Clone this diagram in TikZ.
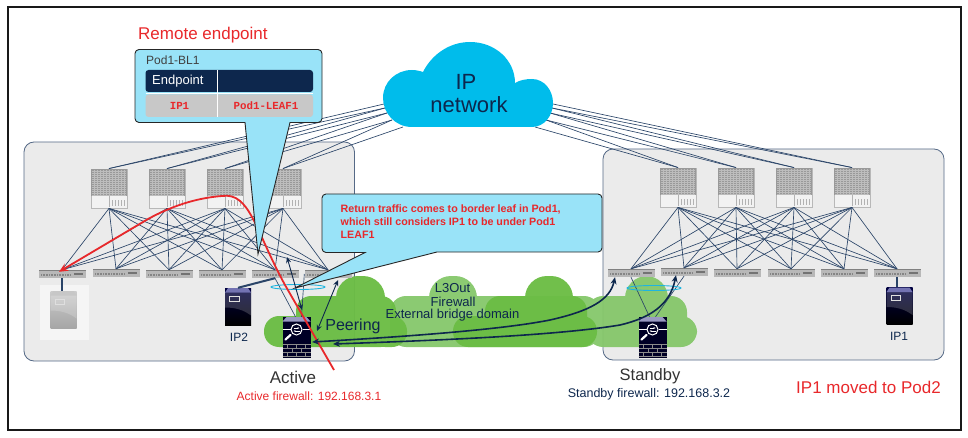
\documentclass[tikz,border=0pt]{standalone}
\usepackage{fontspec}
\setmainfont{Liberation Sans}
\newfontfamily\codefont{Liberation Mono}
\usetikzlibrary{arrows.meta}

\definecolor{navy}{HTML}{2A4468}
\definecolor{headnavy}{HTML}{0D274D}
\definecolor{alertred}{HTML}{E8282B}
\definecolor{calloutblue}{HTML}{99E3F8}
\definecolor{cloudblue}{HTML}{00BCEB}
\definecolor{podgray}{HTML}{EBEBEB}
\definecolor{greendark}{HTML}{6CBD45}
\definecolor{greenlight}{HTML}{85C76A}
\definecolor{rowgray}{HTML}{C8C8C8}
\definecolor{ringblue}{HTML}{1FB5E0}

\tikzset{
  fsz/.style={font=\fontsize{#1}{#1}\selectfont},
  link/.style={draw=navy,line width=0.65pt},
  podbox/.style={draw=navy!80,fill=podgray,line width=0.8pt,rounded corners=10pt},
  spinebox/.style={draw=black!28,fill=black!5,line width=0.9pt,minimum width=36pt,minimum height=39pt,inner sep=0pt},
  leafbox/.style={fill=black!28,minimum width=47pt,minimum height=8pt,inner sep=0pt},
  srvbox/.style={minimum width=26pt,minimum height=37pt,inner sep=0pt},
  fwbox/.style={fill=black!85!blue,minimum width=28pt,minimum height=41pt,inner sep=0pt},
  ring/.style={draw=ringblue,line width=0.9pt},
  flow/.style={draw=headnavy,line width=1.6pt,{Stealth[length=7pt,width=6pt]}-{Stealth[length=7pt,width=6pt]}},
  shortflow/.style={draw=headnavy,line width=0.9pt,{Stealth[length=6pt,width=5pt]}-{Stealth[length=6pt,width=5pt]}},
  callout/.style={draw=black!85,fill=calloutblue,line width=0.9pt,rounded corners=4pt},
  redtext/.style={text=alertred},
  navytext/.style={text=headnavy},
}

% spine switch: name, x, y of centre
\newcommand{\spineicon}[3]{
  \node[spinebox] (#1) at (#2,#3) {};
  \fill[black!40] (#2-18,#3-19.5) rectangle (#2+18,#3+8);
  \foreach \k in {0,2,...,24}
    \draw[black!26,line width=0.4pt] (#2-17,#3-17+\k) -- (#2+17,#3-17+\k);
  \foreach \k in {2,5,...,32}
    \draw[black!26,line width=0.3pt] (#2-17+\k,#3-18) -- (#2-17+\k,#3+7);
  \draw[black!30,line width=0.5pt] (#2,#3+8) -- (#2,#3+19);
  \foreach \k in {3,6,...,15}
    \draw[black!30,line width=0.5pt] (#2+\k,#3+12) -- (#2+\k,#3+18);
}
% leaf switch: name, x, y of centre
\newcommand{\leaficon}[3]{
  \node[leafbox] (#1) at (#2,#3) {};
  \fill[black!50] (#2-23.5,#3-4) rectangle (#2+23.5,#3-2.8);
  \draw[black!48,line width=2pt,dash pattern=on 0.8pt off 0.8pt] (#2-21,#3+0.5) -- (#2+9,#3+0.5);
  \fill[black!55] (#2+12,#3-1.5) rectangle (#2+21,#3+0.5);
}
% server: name, x, y of centre, top colour, bottom colour, front colour
\newcommand{\servericon}[6]{
  \node[srvbox,top color=#5,bottom color=#6] (#1) at (#2,#3) {};
  \fill[#4] (#2-13,#3-14) -- (#2-10,#3-18.5) -- (#2+10,#3-18.5) -- (#2+13,#3-14) -- cycle;
  \draw[white!85!black,line width=0.7pt] (#2-8.5,#3-10.5) rectangle (#2+1,#3-5.5);
  \fill[white,opacity=.18] (#2-13,#3+1) .. controls (#2-3,#3+1) and (#2+5,#3+3) .. (#2+13,#3+9) -- (#2+13,#3-14) -- (#2-13,#3-14) -- cycle;
}
% firewall: name, x, y of centre
\newcommand{\fwicon}[3]{
  \node[fwbox] (#1) at (#2,#3) {};
  \fill[black!60!blue!40!white] (#2-14,#3-16) -- (#2-10,#3-20.5) -- (#2+10,#3-20.5) -- (#2+14,#3-16) -- cycle;
  \draw[white,line width=1pt] (#2,#3-8) circle (5.5);
  \draw[white,line width=0.7pt,-{Stealth[length=2pt]}] (#2-3,#3-9.5) -- (#2+3,#3-9.5);
  \draw[white,line width=0.7pt,-{Stealth[length=2pt]}] (#2+3,#3-6.5) -- (#2-3,#3-6.5);
  \draw[white,line width=0.8pt] (#2-14,#3-8) -- (#2-6,#3-8) (#2+6,#3-8) -- (#2+14,#3-8);
  \draw[white,line width=2.2pt,line cap=round] (#2-11,#3+2) -- (#2-6,#3-2.5);
  \foreach \k in {7,11,15,19}
    \draw[black!45,line width=0.7pt] (#2-14,#3+\k) -- (#2+14,#3+\k);
  \foreach \k in {-9,0,9}
    \draw[black!45,line width=0.7pt] (#2+\k,#3+7) -- (#2+\k,#3+11) (#2+\k,#3+15) -- (#2+\k,#3+19);
  \foreach \k in {-4.5,4.5}
    \draw[black!45,line width=0.7pt] (#2+\k,#3+11) -- (#2+\k,#3+15);
}

\begin{document}
\begin{tikzpicture}[x=1pt,y=-1pt]
  \useasboundingbox (0,0) rectangle (968,438);

  % Outer frame
  \draw[black!90,line width=2pt] (7.5,7.5) rectangle (960.5,429.5);

  % Pods
  \draw[podbox] (24,142) rectangle (354.5,361);
  \draw[podbox] (603,149) rectangle (944,360);

  % Cloud attachment points
  \coordinate (cl1) at (384,104);
  \coordinate (cl2) at (385,108);
  \coordinate (cl3) at (387,113);
  \coordinate (cl4) at (392,120);
  \coordinate (cl5) at (403,127);
  \coordinate (cr1) at (535,127);
  \coordinate (cr2) at (546,120);
  \coordinate (cr3) at (550,113);
  \coordinate (cr4) at (552,108);
  \coordinate (cr5) at (553,104);

  % Green clouds
  \fill[greenlight,fill opacity=.95,rounded corners=16pt]
    (390,296) rectangle (600,347)
    (587,296) rectangle (687,347)
    (650,316) rectangle (697,347)
    [rounded corners=22pt]
    (429,276) rectangle (477,325)
    (625,276) rectangle (668,325);
  \fill[greendark,fill opacity=.97,rounded corners=15pt]
    (264,316) rectangle (320,347)
    (296,296) rectangle (396,347)
    (370,316) rectangle (407,347)
    (453,316) rectangle (597,347)
    (485,296) rectangle (587,347)
    [rounded corners=22pt]
    (336,276) rectangle (385,325)
    (525,276) rectangle (573,325);

  % Spines
  \foreach \n/\x in {1/109,2/167,3/225,4/283}
    \spineicon{spineA\n}{\x}{188.5};
  \foreach \n/\x in {1/678,2/736,3/794,4/852}
    \spineicon{spineB\n}{\x}{187.5};

  % Leaves
  \foreach \n/\x/\y in {1/62/274,2/116/273,3/169/274,4/222/274,5/275/274,6/328/274}
    \leaficon{leafA\n}{\x}{\y};
  \foreach \n/\x/\y in {1/631/273,2/684/272,3/737/273,4/791/273,5/844/273,6/897/273}
    \leaficon{leafB\n}{\x}{\y};

  % Uplinks to the IP network
  \foreach \s/\t in {1/2,2/3,3/4,4/5} {
    \draw[link] (spineA\s.north) -- (cl\s);
    \draw[link] (spineA\s.north) -- (cl\t);
    \draw[link] (spineB\s.north) -- (cr\s);
    \draw[link] (spineB\s.north) -- (cr\t);
  }

  % IP network cloud
  \fill[cloudblue] (412,127) .. controls (395,127) and (383,113) .. (383,98)
    .. controls (383,82) and (396,70) .. (412,70)
    .. controls (416,70) and (420,71) .. (423,72)
    .. controls (432,54) and (450,42) .. (470,42)
    .. controls (495,42) and (515,60) .. (515,83)
    .. controls (520,80) and (526,79) .. (532,79)
    .. controls (544,79) and (553,90) .. (553,103)
    .. controls (553,116) and (544,127) .. (532,127) -- cycle;
  \node[navytext,fsz=22] (ipword) at (466,82) {IP};
  \node[navytext,fsz=22] (netword) at (469,105) {network};

  % Spine to leaf mesh
  \foreach \s in {1,2,3,4}
    \foreach \l in {1,2,3,4,5,6} {
      \draw[link] (spineA\s.south) -- (leafA\l.north);
      \draw[link] (spineB\s.south) -- (leafB\l.north);
    }

  % Servers
  \fill[white!96!black] (40,285) rectangle (88.5,340);
  \servericon{srvGhost}{63.5}{309.5}{black!22}{black!20}{black!35};
  \servericon{srvTwo}{238}{306.5}{black!55!blue!55}{black!75!blue}{black};
  \servericon{srvOne}{899.5}{306}{black!55!blue!55}{black!75!blue}{black};
  \draw[navy,line width=2pt] (leafA1.south) -- (srvGhost.north -| leafA1.south);
  \draw[navy,line width=2pt] (leafA5.south) -- (srvTwo.north);
  \draw[navy,line width=2pt] (leafB6.south) -- (srvOne.north -| leafB6.south);
  \node[navytext,fsz=12] (ipTwoLabel) at (239,337) {IP2};
  \node[navytext,fsz=12] (ipOneLabel) at (899,336) {IP1};

  % Firewalls
  \fwicon{fwActive}{296.5}{337.5}
  \fwicon{fwStandby}{652.5}{337.5}
  \draw[link] (leafA5.south) -- ([xshift=-1pt]fwActive.north);
  \draw[link] (leafA6.west) -- ([xshift=5pt]fwActive.north);
  \draw[link] (leafB1.south) -- ([xshift=-3pt]fwStandby.north);
  \draw[link] (leafB2.south) -- ([xshift=3pt]fwStandby.north);
  \draw[ring] (298,287) ellipse (27 and 2.5);
  \draw[ring] (654,288) ellipse (27 and 2.5);

  % Red path
  \coordinate (redTail) at (334,370);
  \draw[alertred,line width=1.8pt,-{Stealth[length=9pt,width=8pt]}] (redTail) -- (285,285)
    .. controls (255,230) and (250,192) .. (222,196)
    .. controls (195,198) and (170,207) .. (148,219) -- ([xshift=-3pt,yshift=-2pt]leafA1.north);

  % Callouts
  \draw[callout] (135,49.5) -- (322,49.5) -- (322,122.5) [sharp corners] -- (290,122.5) -- (258,254) -- (245,122.5) [rounded corners=4pt] -- (135,122.5) -- cycle;
  \draw[callout] (322,194) -- (602,194) -- (602,252) [sharp corners] -- (437,252) -- (295,288) -- (365,252.5) [rounded corners=4pt] -- (322,252.5) -- cycle;

  % Endpoint table
  \node[anchor=west,inner sep=0pt,fsz=12,text=black!75] (tableTitle) at (146,60) {Pod1-BL1};
  \fill[headnavy,rounded corners=3pt] (145.5,70) rectangle (313,92);
  \fill[rowgray,rounded corners=3pt] (145.5,94.5) rectangle (313,117);
  \draw[white,line width=0.8pt] (217.5,70) -- (217.5,117);
  \draw[white,line width=0.8pt] (145.5,93) -- (313,93);
  \node[anchor=west,inner sep=0pt,text=white,fsz=13] (endpointHead) at (152,81.5) {Endpoint};
  \node[redtext,fsz=10.8] (ipCell) at (179.5,105.5) {\codefont\bfseries IP1};
  \node[redtext,fsz=10.8] (leafCell) at (266,105.5) {\codefont\bfseries Pod1-LEAF1};

  % Return traffic note
  \node[anchor=north west,redtext,align=left,inner sep=0pt,font=\fontsize{10.7}{13}\selectfont\bfseries] (returnNote) at (340.5,205)
    {Return traffic comes to border leaf in Pod1,\\which still considers IP1 to be under Pod1\\LEAF1};

  % Arrows
  \coordinate (arrA) at (287,257);
  \coordinate (arrB) at (302,310);
  \coordinate (arrC) at (317,331);
  \coordinate (arrD) at (338,280);
  \coordinate (retA) at (312,342);
  \coordinate (retB) at (333,344);
  \draw[shortflow] (arrA) -- (arrB);
  \draw[shortflow] (arrC) -- (arrD);
  \draw[flow] (retA) .. controls (400,337) and (500,330) .. (550,320)
    .. controls (590,311) and (610,300) .. ([xshift=-16pt]leafB1.south);
  \draw[flow] (retB) .. controls (450,340) and (560,335) .. (620,325)
    .. controls (650,318) and (670,305) .. ([xshift=-8pt,yshift=1pt]leafB2.south);

  % Cloud and pod labels
  \node[navytext,fsz=13] (lblOut) at (452.5,288) {L3Out};
  \node[navytext,fsz=13] (lblFw) at (453,302) {Firewall};
  \node[navytext,fsz=13] (lblBd) at (452.5,315) {External bridge domain};
  \node[navytext,fsz=16] (lblPeer) at (353,326) {Peering};
  \node[anchor=west,inner sep=0pt,redtext,fsz=17] (lblRemote) at (138,35) {Remote endpoint};
  \node[text=black!80,fsz=17] (lblActive) at (293,377) {Active};
  \node[redtext,fsz=12] (lblActiveFw) at (309,396) {Active firewall: 192.168.3.1};
  \node[text=black!80,fsz=16.5] (lblStandby) at (650,376) {Standby};
  \node[navytext,fsz=12.5] (lblStandbyFw) at (649,394) {Standby firewall: 192.168.3.2};
  \node[redtext,fsz=17] (lblMoved) at (868.5,387) {IP1 moved to Pod2};
\end{tikzpicture}
\end{document}
